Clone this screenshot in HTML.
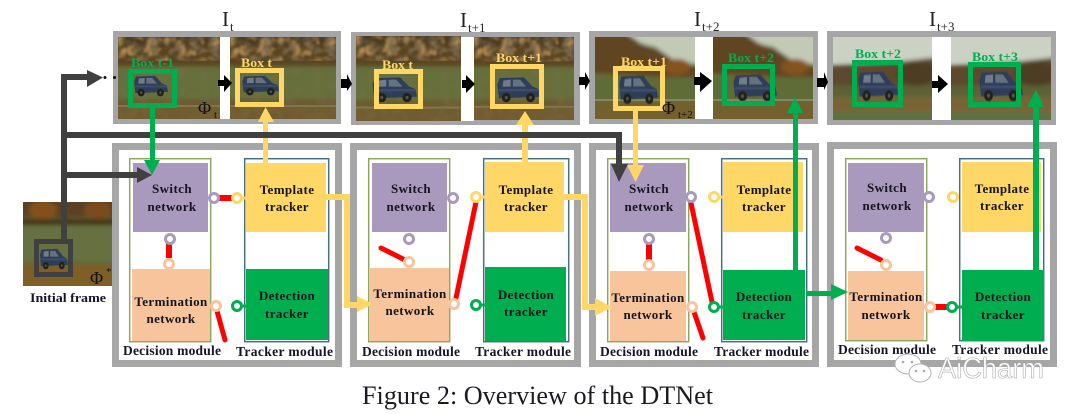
<!DOCTYPE html>
<html><head><meta charset="utf-8"><style>
html,body{margin:0;padding:0;background:#fff;width:1080px;height:414px;overflow:hidden}
svg{display:block}
text{font-family:"Liberation Serif",serif}
.n{font-weight:bold;font-size:13px;fill:#14141f;text-anchor:middle;letter-spacing:.4px}
.m{font-weight:bold;font-size:13.500px;fill:#14142a}
.b{font-weight:bold;font-size:13px}
.t{font-size:21px;fill:#222}
.s{font-size:13px;fill:#222}
</style></head><body>
<svg width="1080" height="414" viewBox="0 0 1080 414" xmlns="http://www.w3.org/2000/svg">
<defs>
<filter id="bl" x="-20%" y="-20%" width="140%" height="140%"><feGaussianBlur stdDeviation="2.2"/></filter>
<filter id="bs" x="-10%" y="-10%" width="120%" height="120%"><feGaussianBlur stdDeviation="0.5"/></filter>
<filter id="nd" x="0" y="0" width="100%" height="100%"><feTurbulence type="fractalNoise" baseFrequency=".1 .13" numOctaves="2" seed="4"/><feColorMatrix values="0 0 0 0 .2  0 0 0 0 .15  0 0 0 0 .08  2.800 0 0 0 -1.100"/><feGaussianBlur stdDeviation=".7"/></filter>
<filter id="no" x="0" y="0" width="100%" height="100%"><feTurbulence type="fractalNoise" baseFrequency=".12 .1" numOctaves="2" seed="11"/><feColorMatrix values="0 0 0 0 .55  0 0 0 0 .3  0 0 0 0 .1  2.600 0 0 0 -1.250"/><feGaussianBlur stdDeviation=".8"/></filter>
<symbol id="forest" viewBox="0 0 100 82" preserveAspectRatio="none">
<rect width="100" height="82" fill="#5a4522"/>
<g filter="url(#bl)">
<rect x="-5" y="-5" width="110" height="14" fill="#4b3b20"/>
<rect x="-5" y="29" width="110" height="34" fill="#66703a"/>
<rect x="-5" y="64" width="110" height="25" fill="#6f5c2e"/>
</g>
<rect width="100" height="24" filter="url(#nd)"/>
<rect width="100" height="24" filter="url(#no)"/>
<rect y="68" width="100" height="2" fill="#8f9070" opacity=".5"/>
<rect y="30" width="100" height="52" filter="url(#nd)" opacity=".35"/>
</symbol>
<symbol id="hill" viewBox="0 0 100 82" preserveAspectRatio="none">
<rect width="100" height="82" fill="#66703a"/>
<g filter="url(#bl)">
<polygon points="30,-5 105,-5 105,28 80,24 60,10 40,6" fill="#c2cab6"/>
<polygon points="-5,-5 30,-5 45,6 62,12 82,26 105,30 105,42 -5,36" fill="#604522"/>
<rect x="-5" y="40" width="110" height="24" fill="#606c38"/>
<rect x="-5" y="64" width="110" height="22" fill="#72602f"/>
<ellipse cx="82" cy="30" rx="14" ry="8" fill="#85521f"/>
</g>
<rect y="62" width="100" height="2" fill="#9a9a84" opacity=".6"/>
</symbol>
<symbol id="field" viewBox="0 0 100 82" preserveAspectRatio="none">
<rect width="100" height="82" fill="#c9d0c0"/>
<g filter="url(#bl)">
<rect x="-5" y="-5" width="110" height="30" fill="#cbd2c3"/>
<polygon points="-5,28 40,26 70,24 105,20 105,52 -5,50" fill="#5d4a2e"/>
<ellipse cx="85" cy="36" rx="20" ry="12" fill="#4d3d24"/>
<rect x="-5" y="48" width="110" height="12" fill="#5c6236"/>
<rect x="-5" y="60" width="110" height="14" fill="#796334"/>
<rect x="-5" y="74" width="110" height="12" fill="#5f7040"/>
</g>
</symbol>
<symbol id="car" viewBox="0 0 60 36" preserveAspectRatio="none">
<g filter="url(#bs)">
<polygon points="5,4 38,3 50,15 58,18 60,28 4,30 2,12" fill="#2f3d58"/>
<polygon points="10,7 20,6 20,15 9,15" fill="#6f7b88"/>
<polygon points="23,6 33,6 41,15 23,15" fill="#667280"/>
<rect x="4" y="18" width="54" height="3" fill="#3d4e6b"/>
<circle cx="14" cy="29" r="6" fill="#22221f"/><circle cx="14" cy="29" r="2" fill="#555"/>
<circle cx="47" cy="29" r="6" fill="#22221f"/><circle cx="47" cy="29" r="2" fill="#555"/>
</g>
</symbol>
</defs>

<!-- top panels -->
<rect x="113" y="31" width="228" height="93" fill="#a6a6a6"/>
<rect x="351" y="32" width="229" height="93" fill="#a6a6a6"/>
<rect x="589" y="31" width="229" height="93" fill="#a6a6a6"/>
<rect x="827" y="31" width="229" height="94" fill="#a6a6a6"/>
<use href="#forest" x="118" y="37" width="102" height="82"/>
<rect x="220" y="37" width="10" height="82" fill="#fff"/>
<use href="#forest" x="230" y="37" width="106" height="82"/>
<use href="#forest" x="356" y="36" width="105" height="85"/>
<rect x="461" y="37" width="13" height="84" fill="#fff"/>
<use href="#forest" x="474" y="37" width="100" height="83"/>
<use href="#hill" x="595" y="37" width="100" height="82"/>
<rect x="695" y="37" width="18" height="82" fill="#fff"/>
<use href="#hill" x="713" y="37" width="100" height="82"/>
<use href="#field" x="833" y="37" width="99" height="83"/>
<rect x="932" y="37" width="19" height="83" fill="#fff"/>
<use href="#field" x="951" y="37" width="100" height="83"/>

<!-- cars -->
<use href="#car" x="133" y="74" width="35" height="23"/>
<use href="#car" x="241" y="74" width="38" height="22"/>
<use href="#car" x="371" y="75" width="46" height="28"/>
<use href="#car" x="496" y="75" width="44" height="28"/>
<use href="#car" x="618" y="73" width="40" height="32"/>
<use href="#car" x="732" y="72" width="45" height="30"/>
<use href="#car" x="857" y="69" width="41" height="33"/>
<use href="#car" x="978" y="69" width="45" height="33"/>

<!-- boxes -->
<g fill="none" stroke-width="5">
<rect x="130.500" y="71.500" width="44" height="34" stroke="#00ae50"/>
<rect x="237.500" y="70.500" width="44" height="34" stroke="#ffd766"/>
<rect x="376.500" y="71.500" width="44" height="35" stroke="#ffd766"/>
<rect x="492.500" y="66.500" width="49" height="40" stroke="#ffd766"/>
<rect x="615.500" y="68.500" width="47" height="40" stroke="#ffd766"/>
<rect x="724.500" y="66.500" width="48" height="37" stroke="#00ae50"/>
<rect x="854.500" y="62.500" width="46" height="42" stroke="#00ae50"/>
<rect x="970.500" y="64.500" width="48" height="40" stroke="#00ae50"/>
</g>
<text class="b" x="131" y="67" textLength="43" lengthAdjust="spacingAndGlyphs" fill="#00ae50">Box t-1</text>
<text class="b" x="241" y="67" textLength="31" lengthAdjust="spacingAndGlyphs" fill="#ffd766">Box t</text>
<text class="b" x="382" y="69" textLength="31" lengthAdjust="spacingAndGlyphs" fill="#ffd766">Box t</text>
<text class="b" x="496" y="62" textLength="46" lengthAdjust="spacingAndGlyphs" fill="#ffd766">Box t+1</text>
<text class="b" x="621" y="66" textLength="46" lengthAdjust="spacingAndGlyphs" fill="#ffd766">Box t+1</text>
<text class="b" x="728" y="62" textLength="46" lengthAdjust="spacingAndGlyphs" fill="#00ae50">Box t+2</text>
<text class="b" x="855" y="58" textLength="46" lengthAdjust="spacingAndGlyphs" fill="#00ae50">Box t+2</text>
<text class="b" x="972" y="61" textLength="46" lengthAdjust="spacingAndGlyphs" fill="#00ae50">Box t+3</text>

<!-- phi labels -->
<text x="198" y="114" font-size="18" fill="#111">Φ</text><text x="214" y="118" font-size="11" fill="#111">t</text>
<text x="662" y="114" font-size="18" fill="#111">Φ</text><text x="678" y="118" font-size="11" fill="#111">t+2</text>

<!-- titles -->
<text class="t" x="222" y="26">I</text><text class="s" x="230" y="31">t</text>
<text class="t" x="460" y="27">I</text><text class="s" x="468" y="32">t+1</text>
<text class="t" x="694" y="26">I</text><text class="s" x="702" y="31">t+2</text>
<text class="t" x="929" y="26">I</text><text class="s" x="937" y="31">t+3</text>

<!-- black arrows -->
<g fill="#000">
<polygon points="218,80 224,80 224,75 232,83 224,92 224,86 218,86"/>
<polygon points="341,79 347,79 347,74 352,84 347,91 347,88 341,88"/>
<polygon points="462,80 466,80 466,75 475,84 466,93 466,88 462,88"/>
<polygon points="579,77 585,77 585,72 590,81 585,90 585,85 579,85"/>
<polygon points="694,77 700,77 700,72 712,81 700,92 700,85 694,85"/>
<polygon points="817,78 824,78 824,72 828,82 824,90 824,87 817,87"/>
<polygon points="932,81 938,81 938,75 948,84 938,93 938,88 932,88"/>
</g>

<!-- bottom panels -->
<g fill="#fff" stroke="#a6a6a6" stroke-width="7">
<rect x="115.500" y="146.500" width="223" height="217"/>
<rect x="353.500" y="146.500" width="224" height="217"/>
<rect x="592.500" y="146.500" width="223" height="217"/>
<rect x="830.500" y="145.500" width="223" height="218"/>
</g>

<!-- module frames -->
<g fill="none" stroke-width="1.500" stroke="#8fa760">
<rect x="129.700" y="158.700" width="81" height="183"/>
<rect x="368.700" y="158.700" width="81" height="183"/>
<rect x="607.700" y="158.700" width="81" height="183"/>
<rect x="845.700" y="158.700" width="81" height="182"/>
</g>
<g fill="none" stroke-width="1.500" stroke="#4a7080">
<rect x="244.700" y="158.700" width="84" height="183"/>
<rect x="483.700" y="158.700" width="85" height="183"/>
<rect x="721.700" y="158.700" width="85" height="183"/>
<rect x="959.700" y="158.700" width="84" height="182"/>
</g>

<!-- nodes -->
<g fill="#a99abd">
<rect x="133" y="163" width="75" height="69"/><rect x="372" y="163" width="75" height="69"/>
<rect x="610" y="163" width="76" height="69"/><rect x="848" y="163" width="76" height="69"/>
</g>
<g fill="#f7c49b">
<rect x="132" y="269" width="78" height="72"/><rect x="370" y="268" width="79" height="73"/>
<rect x="610" y="271" width="76" height="70"/><rect x="848" y="271" width="76" height="69"/>
</g>
<g fill="#ffd766">
<rect x="246" y="163" width="80" height="69"/><rect x="485" y="162" width="79" height="70"/>
<rect x="723" y="162" width="80" height="70"/><rect x="962" y="162" width="79" height="70"/>
</g>
<g fill="#00ae50">
<rect x="246" y="269" width="82" height="71"/><rect x="485" y="267" width="81" height="74"/>
<rect x="723" y="270" width="82" height="70"/><rect x="962" y="270" width="82" height="71"/>
</g>

<!-- red links -->
<g stroke="#ff0000" stroke-width="5" fill="none" stroke-linecap="round">
<line x1="219" y1="198" x2="232" y2="198" stroke-width="6" stroke-linecap="butt"/>
<line x1="169" y1="243" x2="169" y2="258" stroke-width="6" stroke-linecap="butt"/>
<line x1="217" y1="311" x2="225" y2="340"/>
<line x1="381" y1="248" x2="405" y2="260"/>
<line x1="476" y1="202" x2="456" y2="298"/>
<line x1="691" y1="203" x2="712" y2="302"/>
<line x1="649" y1="243" x2="649" y2="260" stroke-width="6" stroke-linecap="butt"/>
<line x1="694" y1="312" x2="703" y2="338"/>
<line x1="857" y1="248" x2="881" y2="260"/>
<line x1="935" y1="307" x2="947" y2="307" stroke-width="6" stroke-linecap="butt"/>
</g>

<!-- yellow connectors -->
<g fill="none" stroke="#ffd766" stroke-width="6">
<polyline points="326,197 347,197 347,305 358,305"/>
<polyline points="564,197 585,197 585,307 596,307"/>
</g>
<g stroke="#ffd766" stroke-width="3"><line x1="241" y1="198" x2="246" y2="198"/><line x1="480" y1="197" x2="485" y2="197"/><line x1="718" y1="197" x2="723" y2="197"/></g>
<g fill="#ffd766">
<polygon points="357,296 373,304 357,312"/>
<polygon points="595,298 612,307 595,316"/>
<rect x="263" y="120" width="5" height="43"/><polygon points="258,122 265.500,107 274,122"/>
<rect x="522" y="122" width="6" height="40"/><polygon points="516,125 525,111 534,125"/>
<rect x="633" y="108" width="5" height="58"/><polygon points="627,165 644,165 635.500,182"/>
</g>

<!-- dark connectors -->
<g fill="none" stroke="#404040" stroke-width="6">
<polyline points="64,240 64,77 88,77"/>
<line x1="64" y1="175" x2="138" y2="175"/>
<polyline points="64,135 619,135 619,165"/>
</g>
<g fill="#404040">
<polygon points="87,70 103,77.500 87,87"/>
<polygon points="137,167 152,175 137,183"/>
<polygon points="611,164 628,164 619,182"/>
</g>
<circle cx="105" cy="77.500" r="1.500" fill="#111"/><circle cx="114.500" cy="77.500" r="1.500" fill="#111"/>

<!-- green connectors -->
<g fill="#00ae50">
<rect x="150" y="107" width="5" height="54"/><polygon points="144,160 160,160 152,175"/>
<rect x="793" y="112" width="5" height="158"/><polygon points="787,113 795,97 803,113"/>
<rect x="806" y="291" width="26" height="5"/><polygon points="831,284 848,292 831,300"/>
<rect x="1033" y="106" width="6" height="164"/><polygon points="1027,107 1036,90 1044,107"/>
</g>
<g stroke="#00ae50" stroke-width="3"><line x1="241" y1="306" x2="246" y2="306"/><line x1="480" y1="305" x2="485" y2="305"/><line x1="718" y1="307" x2="723" y2="307"/><line x1="956" y1="307" x2="962" y2="307"/></g>

<!-- circles -->
<g fill="#fff" stroke-width="3">
<g stroke="#a99abd">
<circle cx="214" cy="198" r="4.500"/><circle cx="170" cy="239" r="4.500"/>
<circle cx="453" cy="198" r="4.500"/><circle cx="409" cy="239" r="4.500"/>
<circle cx="691" cy="197" r="4.500"/><circle cx="649" cy="239" r="4.500"/>
<circle cx="929" cy="197" r="4.500"/><circle cx="886" cy="238" r="4.500"/>
</g>
<g stroke="#ffd766">
<circle cx="237" cy="198" r="4.500"/><circle cx="476" cy="197" r="4.500"/>
<circle cx="714" cy="197" r="4.500"/><circle cx="953" cy="197" r="4.500"/>
</g>
<g stroke="#f7c49b">
<circle cx="169" cy="264" r="4.500"/><circle cx="216" cy="306" r="4.500"/>
<circle cx="409" cy="262" r="4.500"/><circle cx="454" cy="304" r="4.500"/>
<circle cx="649" cy="265" r="4.500"/><circle cx="692" cy="307" r="4.500"/>
<circle cx="886" cy="265" r="4.500"/><circle cx="930" cy="307" r="4.500"/>
</g>
<g stroke="#00ae50">
<circle cx="237" cy="306" r="4.500"/><circle cx="476" cy="305" r="4.500"/>
<circle cx="714" cy="307" r="4.500"/><circle cx="952" cy="307" r="4.500"/>
</g>
</g>

<!-- node labels -->
<text class="n" x="172" y="193">Switch</text><text class="n" x="172" y="211">network</text>
<text class="n" x="171" y="306">Termination</text><text class="n" x="171" y="323">network</text>
<text class="n" x="287" y="194">Template</text><text class="n" x="287" y="211">tracker</text>
<text class="n" x="287" y="300">Detection</text><text class="n" x="287" y="318">tracker</text>
<text class="n" x="411" y="193">Switch</text><text class="n" x="411" y="211">network</text>
<text class="n" x="410" y="298">Termination</text><text class="n" x="410" y="315">network</text>
<text class="n" x="526" y="194">Template</text><text class="n" x="526" y="211">tracker</text>
<text class="n" x="526" y="299">Detection</text><text class="n" x="526" y="316">tracker</text>
<text class="n" x="649" y="193">Switch</text><text class="n" x="649" y="211">network</text>
<text class="n" x="648" y="302">Termination</text><text class="n" x="648" y="319">network</text>
<text class="n" x="764" y="194">Template</text><text class="n" x="764" y="211">tracker</text>
<text class="n" x="764" y="301">Detection</text><text class="n" x="764" y="319">tracker</text>
<text class="n" x="887" y="192">Switch</text><text class="n" x="887" y="210">network</text>
<text class="n" x="886" y="301">Termination</text><text class="n" x="886" y="319">network</text>
<text class="n" x="1002" y="193">Template</text><text class="n" x="1002" y="210">tracker</text>
<text class="n" x="1003" y="301">Detection</text><text class="n" x="1003" y="319">tracker</text>

<!-- module labels -->
<text class="m" x="123" y="355" textLength="98">Decision module</text>
<text class="m" x="236" y="356" textLength="97">Tracker module</text>
<text class="m" x="362" y="356" textLength="98">Decision module</text>
<text class="m" x="475" y="356" textLength="96">Tracker module</text>
<text class="m" x="600" y="356" textLength="98">Decision module</text>
<text class="m" x="714" y="356" textLength="95">Tracker module</text>
<text class="m" x="838" y="354" textLength="98">Decision module</text>
<text class="m" x="952" y="354" textLength="96">Tracker module</text>

<!-- initial frame -->
<svg x="23" y="202" width="89" height="84" viewBox="0 0 89 84">
<rect width="89" height="84" fill="#5f6a38"/>
<g filter="url(#bl)">
<rect x="-5" y="-5" width="99" height="20" fill="#5c4120"/>
<ellipse cx="20" cy="8" rx="14" ry="9" fill="#85501f"/>
<ellipse cx="75" cy="8" rx="14" ry="9" fill="#7c4b1e"/>
<rect x="-5" y="17" width="99" height="6" fill="#453518"/>
<rect x="-5" y="24" width="99" height="36" fill="#66703f"/>
<rect x="-5" y="62" width="99" height="28" fill="#7e5f28"/>
</g>
</svg>
<use href="#car" x="39" y="247" width="29" height="23"/>
<rect x="36.500" y="241.500" width="34" height="33" fill="none" stroke="#404040" stroke-width="5"/>
<rect x="61" y="202" width="6" height="38" fill="#404040"/>
<text x="90" y="284" font-size="18" fill="#111">Φ</text><text x="106" y="275" font-size="11" fill="#111">*</text>
<text x="30" y="302" font-size="12.500" font-weight="bold" fill="#14142a" textLength="76" lengthAdjust="spacingAndGlyphs">Initial frame</text>

<!-- caption -->
<text x="362" y="404" font-size="26" fill="#1a1a22" textLength="351" lengthAdjust="spacingAndGlyphs">Figure 2: Overview of the DTNet</text>

<!-- watermark -->
<g fill="#fff" stroke="#b5b5b5" stroke-width="1">
<ellipse cx="908" cy="364" rx="13" ry="10"/>
<ellipse cx="920" cy="373" rx="11" ry="9"/>
</g>
<g fill="#aaa"><circle cx="903" cy="362" r="1.300"/><circle cx="912" cy="362" r="1.300"/><circle cx="916" cy="371" r="1.300"/><circle cx="924" cy="371" r="1.300"/></g>
<text x="938" y="378" font-size="29" style="font-family:'Liberation Sans',sans-serif" fill="#fff" stroke="#a8a8a8" stroke-width="0.600" textLength="106" lengthAdjust="spacingAndGlyphs">AiCharm</text>
</svg>
</body></html>
